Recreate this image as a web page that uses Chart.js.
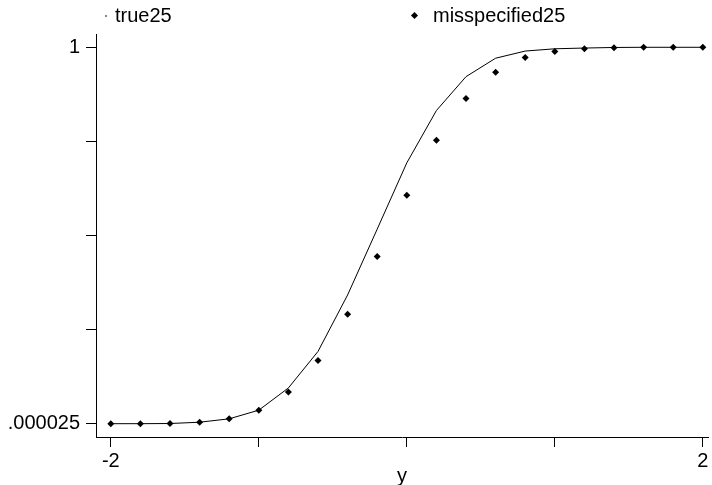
<!DOCTYPE html>
<html>
<head>
<meta charset="utf-8">
<script src="https://cdn.jsdelivr.net/npm/chart.js@4"></script>
<style>
  body { margin: 0; background: #fff; }
  #wrap { position: relative; width: 712px; height: 485px; }
  .leg { position: absolute; font: 20px "Liberation Sans", Arial, sans-serif; color: #000; line-height: 24px; }
  .dot { position: absolute; width: 2px; height: 2px; background: #888; }
  .dia { position: absolute; width: 5px; height: 5px; background: #000; transform: rotate(45deg); }
</style>
</head>
<body>
<div id="wrap">
  <canvas id="cdfChart" width="712" height="485"></canvas>
  <span class="dot" style="left:105px;top:15px"></span>
  <span class="leg" style="left:115px;top:3px">true25</span>
  <span class="dia" style="left:412px;top:13px"></span>
  <span class="leg" style="left:433px;top:3px">misspecified25</span>
</div>
<script>
// grid of y values
const xValues = [-2, -1.8, -1.6, -1.4, -1.2, -1, -0.8, -0.6, -0.4, -0.2, 0, 0.2, 0.4, 0.6, 0.8, 1, 1.2, 1.4, 1.6, 1.8, 2];
const true25 = [0.000025, 0.0001, 0.0005, 0.004, 0.013, 0.036, 0.095, 0.192, 0.342, 0.517, 0.693, 0.832, 0.922, 0.971, 0.990, 0.996, 0.998, 0.9995, 1, 1, 1];
const misspecified25 = [0.000025, 0.0001, 0.0004, 0.004, 0.013, 0.036, 0.084, 0.168, 0.291, 0.444, 0.607, 0.753, 0.864, 0.934, 0.973, 0.989, 0.996, 0.999, 1, 1, 1];

const xTicks = [-2, -1, 0, 1, 2];
const xTickLabels = ['-2', '', '', '', '2'];
const yTicks = [0.000025, 0.25, 0.5, 0.75, 1];
const yTickLabels = ['.000025', '', '', '', '1'];

const font = { family: '"Liberation Sans", Arial, sans-serif', size: 20 };

const ctx = document.getElementById('cdfChart').getContext('2d');
new Chart(ctx, {
    type: 'scatter',
    data: {
        datasets: [{
            label: 'true25',
            data: xValues.map((x, i) => ({ x: x, y: true25[i] })),
            showLine: true,
            borderColor: '#000',
            borderWidth: 1,
            pointRadius: 0,
            tension: 0
        }, {
            label: 'misspecified25',
            data: xValues.map((x, i) => ({ x: x, y: misspecified25[i] })),
            showLine: false,
            pointStyle: 'rectRot',
            pointRadius: 3.5,
            backgroundColor: '#000',
            borderColor: '#000',
            borderWidth: 0
        }]
    },
    options: {
        responsive: false,
        animation: false,
        layout: { padding: { top: 34, right: 0, left: 0, bottom: 0 } },
        plugins: { legend: { display: false }, tooltip: { enabled: false } },
        scales: {
            x: {
                type: 'linear',
                min: -2.1,
                max: 2.035,
                afterBuildTicks: s => { s.ticks = xTicks.map(v => ({ value: v })); },
                afterFit: s => { s.height = 48; },
                ticks: {
                    color: '#000', font: font, padding: 2, maxRotation: 0,
                    callback: (v, i) => xTickLabels[i]
                },
                grid: { drawOnChartArea: false, tickLength: 10, color: '#000', tickColor: '#000' },
                border: { display: true, color: '#000', width: 1 },
                title: { display: true, text: 'y', color: '#000', font: font, padding: { top: 0, bottom: -3 } }
            },
            y: {
                min: -0.0353,
                max: 1.0353,
                afterBuildTicks: s => { s.ticks = yTicks.map(v => ({ value: v })); },
                afterFit: s => { s.width = 96; },
                ticks: {
                    color: '#000', font: font, padding: 6,
                    callback: (v, i) => yTickLabels[i]
                },
                grid: { drawOnChartArea: false, tickLength: 10, color: '#000', tickColor: '#000' },
                border: { display: true, color: '#000', width: 1 }
            }
        }
    }
});
</script>
</body>
</html>
